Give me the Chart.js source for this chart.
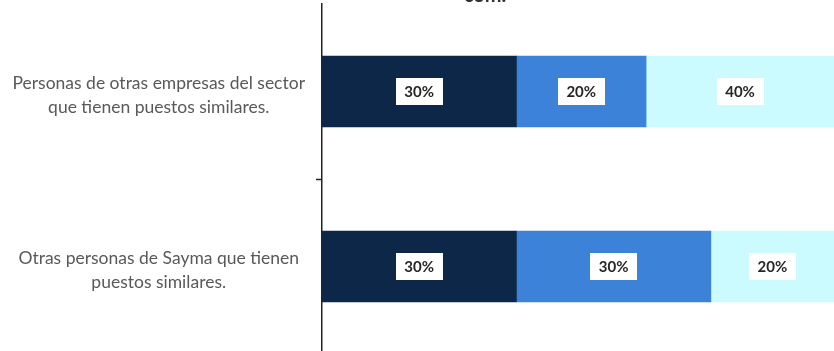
<!DOCTYPE html>
<html lang="es">
<head>
<meta charset="utf-8">
<title>Referentes de comparación</title>
<script src="https://cdn.jsdelivr.net/npm/chart.js@4/dist/chart.umd.min.js"></script>
<style>
    html, body { margin: 0; padding: 0; background: #fff; overflow: hidden; }
    #wrap { position: relative; width: 834px; height: 351px; overflow: hidden; }
    #chart { display: block; }
</style>
</head>
<body>
<div id="wrap">
    <canvas id="chart" width="834" height="370"></canvas>
</div>
<script>
    // categorias y porcentajes de cada tramo
    var categorias = [
        ['Personas de otras empresas del sector', 'que tienen puestos similares.'],
        ['Otras personas de Sayma que tienen', 'puestos similares.']
    ];
    var tramoOscuro = [30, 30];
    var tramoMedio = [20, 30];
    var tramoClaro = [40, 20];
    var ultimaLineaTitulo = 'com.';

    // fin visible del eje x (el tramo claro queda cortado en el borde)
    var ejeMax = 79;

    // cajitas blancas con el valor, centradas en la parte visible del tramo
    var etiquetas = {
        id: 'etiquetas',
        afterDatasetsDraw: function (chart) {
            var ctx = chart.ctx;
            var area = chart.chartArea;
            ctx.save();
            ctx.font = 'bold 15px Lato';
            ctx.textAlign = 'center';
            ctx.textBaseline = 'middle';
            chart.data.datasets.forEach(function (ds, i) {
                chart.getDatasetMeta(i).data.forEach(function (bar, j) {
                    var p = bar.getProps(['x', 'y', 'base'], true);
                    var l = Math.max(Math.min(p.x, p.base), area.left);
                    var r = Math.min(Math.max(p.x, p.base), area.right);
                    var cx = (l + r) / 2;
                    var txt = ds.data[j] + '%';
                    var w = ctx.measureText(txt).width + 17;
                    var h = 27;
                    ctx.fillStyle = '#ffffff';
                    ctx.fillRect(Math.round(cx - w / 2), Math.round(p.y - h / 2), Math.round(w), h);
                    ctx.fillStyle = '#262626';
                    ctx.fillText(txt, cx, p.y + 1);
                });
            });
            ctx.restore();
        }
    };

    // solo asoma la ultima linea del titulo por arriba
    var tituloCortado = {
        id: 'tituloCortado',
        afterDraw: function (chart) {
            var ctx = chart.ctx;
            ctx.save();
            ctx.font = 'bold 20px Lato';
            ctx.fillStyle = '#333333';
            ctx.textAlign = 'center';
            ctx.textBaseline = 'alphabetic';
            ctx.fillText(ultimaLineaTitulo, 485, 2);
            ctx.restore();
        }
    };

    var el = document.getElementById('chart');

    new Chart(el, {
        type: 'bar',
        data: {
            labels: categorias,
            datasets: [
                { label: 'Oscuro', data: tramoOscuro, backgroundColor: '#0c2748' },
                { label: 'Medio', data: tramoMedio, backgroundColor: '#3c82d8' },
                { label: 'Claro', data: tramoClaro, backgroundColor: '#cbfbfe' }
            ]
        },
        options: {
            indexAxis: 'y',
            responsive: false,
            animation: false,
            layout: { padding: { top: 4, bottom: 16, left: 0, right: 0 } },
            datasets: {
                bar: { barThickness: 71, borderWidth: 0 }
            },
            plugins: {
                legend: { display: false },
                tooltip: { enabled: false },
                title: { display: false }
            },
            scales: {
                x: {
                    stacked: true,
                    display: false,
                    min: 0,
                    max: ejeMax
                },
                y: {
                    stacked: true,
                    afterFit: function (scale) {
                        scale.width = 322;
                        scale.paddingTop = 0;
                        scale.paddingBottom = 0;
                    },
                    border: { color: '#222222', width: 1.5 },
                    grid: {
                        drawOnChartArea: false,
                        tickLength: 6,
                        tickWidth: 1.5,
                        // solo la marca entre las dos categorias
                        tickColor: function (c) { return c.index === 1 ? '#222222' : 'rgba(0,0,0,0)'; }
                    },
                    ticks: {
                        crossAlign: 'center',
                        padding: 11,
                        labelOffset: 4,
                        color: '#595959',
                        font: { family: 'Lato', size: 17.5, lineHeight: 1.35 }
                    }
                }
            }
        },
        plugins: [etiquetas, tituloCortado]
    });
</script>
</body>
</html>
